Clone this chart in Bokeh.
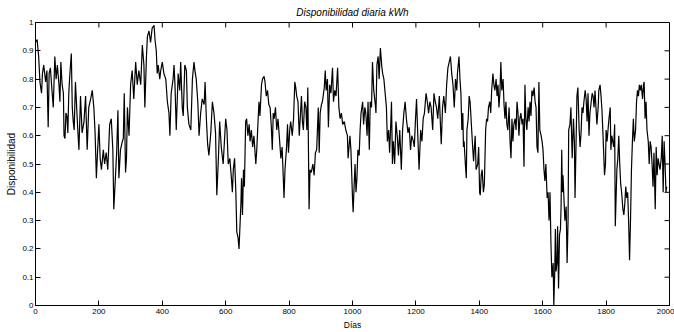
import math
from bokeh.plotting import figure
from bokeh.models import FixedTicker, Range1d
from bokeh.embed import file_html
from bokeh.resources import INLINE

# Daily availability
dias_1 = [0, 5, 10, 14, 19, 22, 26, 32, 36, 40, 43, 47, 52, 56, 61, 65, 69, 74, 77, 80, 84, 88, 90, 93, 96, 99,
          102, 105, 108, 113, 116, 119, 122, 126, 132, 137, 142, 147, 153, 158, 163, 168, 174, 179, 184, 188,
          192, 196, 200, 204, 208, 214, 218, 223, 228, 234, 239, 244, 247, 252, 256, 260, 263, 268, 274, 277,
          280, 284, 287, 290, 295, 300, 305, 310, 316, 321, 326]
disp_1 = [0.93, 0.94, 0.88, 0.79, 0.75, 0.82, 0.85, 0.79, 0.83, 0.63, 0.82, 0.84, 0.76, 0.70, 0.88, 0.80, 0.85,
          0.78, 0.72, 0.86, 0.78, 0.75, 0.60, 0.59, 0.68, 0.67, 0.61, 0.75, 0.81, 0.89, 0.70, 0.65, 0.62, 0.79,
          0.65, 0.55, 0.74, 0.61, 0.65, 0.74, 0.55, 0.70, 0.73, 0.76, 0.70, 0.61, 0.45, 0.55, 0.64, 0.52, 0.48,
          0.55, 0.50, 0.54, 0.48, 0.64, 0.66, 0.55, 0.34, 0.45, 0.54, 0.69, 0.45, 0.55, 0.58, 0.59, 0.75, 0.47,
          0.52, 0.70, 0.60, 0.78, 0.83, 0.73, 0.86, 0.78, 0.83]

dias_2 = [332, 337, 342, 345, 350, 353, 358, 363, 368, 374, 377, 381, 384, 387, 392, 395, 400, 405, 411, 416,
          421, 424, 428, 434, 437, 440, 444, 450, 455, 458, 463, 466, 471, 476, 479, 484, 490, 495, 500, 503,
          507, 512, 516, 521, 526, 532, 535, 539, 543, 547, 553, 558, 563, 568, 572, 577, 581, 586, 592, 597,
          600, 604, 608, 613, 618, 621, 624, 628, 632, 635, 639, 642, 645, 648, 650, 653, 656, 659, 663, 666]
disp_2 = [0.78, 0.92, 0.85, 0.70, 0.88, 0.95, 0.97, 0.93, 0.98, 0.99, 0.94, 0.90, 0.82, 0.85, 0.80, 0.83, 0.86,
          0.82, 0.80, 0.72, 0.68, 0.60, 0.75, 0.80, 0.85, 0.78, 0.62, 0.82, 0.76, 0.86, 0.70, 0.67, 0.85, 0.83,
          0.70, 0.64, 0.62, 0.80, 0.86, 0.83, 0.80, 0.72, 0.60, 0.68, 0.73, 0.71, 0.79, 0.66, 0.57, 0.53, 0.61,
          0.72, 0.68, 0.61, 0.39, 0.52, 0.65, 0.56, 0.50, 0.60, 0.66, 0.62, 0.50, 0.52, 0.45, 0.40, 0.48, 0.52,
          0.40, 0.26, 0.24, 0.20, 0.28, 0.36, 0.45, 0.32, 0.48, 0.42, 0.65, 0.66]

dias_3 = [670, 674, 677, 681, 685, 689, 695, 698, 702, 705, 708, 713, 716, 721, 724, 728, 732, 736, 740, 744,
          747, 750, 753, 757, 761, 765, 769, 774, 778, 782, 784, 787, 792, 795, 798, 802, 805, 810, 814, 818,
          821, 824, 828, 832, 835, 839, 842, 845, 849, 853, 856, 859, 863, 866, 870, 875, 879, 883, 887, 892,
          895, 898, 902, 905, 911, 914, 917, 921, 924, 928, 932, 937, 940, 944, 948, 953, 957, 961, 965, 969,
          974, 979, 984, 986]
disp_3 = [0.60, 0.64, 0.58, 0.62, 0.56, 0.60, 0.50, 0.55, 0.65, 0.72, 0.67, 0.78, 0.80, 0.81, 0.79, 0.74, 0.76,
          0.71, 0.70, 0.63, 0.55, 0.68, 0.66, 0.70, 0.62, 0.66, 0.60, 0.52, 0.56, 0.44, 0.38, 0.48, 0.56, 0.64,
          0.54, 0.62, 0.65, 0.60, 0.66, 0.79, 0.77, 0.74, 0.72, 0.60, 0.66, 0.74, 0.65, 0.62, 0.72, 0.70, 0.62,
          0.77, 0.34, 0.48, 0.47, 0.50, 0.46, 0.54, 0.55, 0.70, 0.54, 0.68, 0.71, 0.72, 0.77, 0.83, 0.76, 0.80,
          0.63, 0.78, 0.75, 0.84, 0.72, 0.76, 0.74, 0.84, 0.70, 0.66, 0.68, 0.64, 0.65, 0.62, 0.60, 0.52]

dias_4 = [992, 995, 998, 1000, 1002, 1005, 1008, 1011, 1014, 1017, 1021, 1024, 1027, 1032, 1035, 1039, 1042,
          1046, 1049, 1053, 1056, 1060, 1063, 1067, 1072, 1074, 1077, 1081, 1084, 1088, 1092, 1095, 1099, 1103,
          1107, 1110, 1114, 1117, 1120, 1123, 1126, 1129, 1133, 1137, 1141, 1145, 1149, 1154, 1158, 1162, 1166,
          1170, 1175, 1179, 1183, 1187, 1192, 1195, 1198, 1202, 1206, 1210, 1215, 1219, 1223, 1227, 1232, 1236,
          1240, 1244, 1248, 1253, 1257, 1261, 1265, 1269, 1274, 1278, 1280, 1284, 1288, 1293, 1297, 1301, 1305,
          1309]
disp_4 = [0.60, 0.55, 0.45, 0.38, 0.33, 0.42, 0.50, 0.40, 0.45, 0.55, 0.53, 0.62, 0.68, 0.72, 0.64, 0.70, 0.68,
          0.60, 0.72, 0.55, 0.72, 0.70, 0.86, 0.76, 0.71, 0.68, 0.85, 0.88, 0.80, 0.91, 0.85, 0.82, 0.80, 0.75,
          0.70, 0.58, 0.62, 0.54, 0.62, 0.72, 0.50, 0.58, 0.50, 0.65, 0.60, 0.53, 0.62, 0.48, 0.62, 0.68, 0.72,
          0.66, 0.61, 0.63, 0.55, 0.60, 0.58, 0.56, 0.64, 0.73, 0.60, 0.48, 0.62, 0.58, 0.66, 0.68, 0.75, 0.72,
          0.68, 0.72, 0.70, 0.62, 0.75, 0.72, 0.70, 0.66, 0.74, 0.62, 0.57, 0.70, 0.74, 0.68, 0.78, 0.84, 0.86,
          0.88]

dias_5 = [1313, 1317, 1321, 1325, 1329, 1331, 1336, 1339, 1342, 1345, 1348, 1350, 1352, 1356, 1359, 1361, 1365,
          1368, 1371, 1376, 1379, 1382, 1384, 1387, 1390, 1395, 1398, 1401, 1403, 1406, 1409, 1413, 1416, 1420,
          1423, 1426, 1429, 1433, 1436, 1439, 1443, 1446, 1449, 1453, 1456, 1459, 1462, 1465, 1468, 1471, 1475,
          1478, 1481, 1484, 1487, 1490, 1494, 1497, 1500, 1503, 1506, 1509, 1513, 1516, 1519, 1522, 1525, 1528,
          1531, 1535, 1538, 1541, 1544, 1547, 1550, 1554, 1557, 1560, 1563, 1566, 1569, 1573, 1576, 1579, 1582,
          1585, 1588, 1591, 1595, 1598, 1601, 1604, 1607, 1610, 1614, 1617, 1620, 1623, 1626, 1629, 1633, 1635,
          1638, 1640]
disp_5 = [0.82, 0.78, 0.70, 0.80, 0.76, 0.82, 0.88, 0.80, 0.75, 0.62, 0.68, 0.56, 0.58, 0.50, 0.45, 0.62, 0.66,
          0.74, 0.72, 0.62, 0.56, 0.51, 0.55, 0.60, 0.48, 0.50, 0.56, 0.40, 0.39, 0.46, 0.48, 0.40, 0.43, 0.62,
          0.66, 0.65, 0.70, 0.72, 0.68, 0.76, 0.82, 0.78, 0.76, 0.80, 0.74, 0.78, 0.70, 0.75, 0.86, 0.76, 0.80,
          0.71, 0.66, 0.72, 0.64, 0.62, 0.70, 0.58, 0.52, 0.66, 0.58, 0.64, 0.66, 0.62, 0.72, 0.68, 0.60, 0.66,
          0.68, 0.64, 0.66, 0.49, 0.78, 0.66, 0.62, 0.70, 0.65, 0.72, 0.67, 0.76, 0.74, 0.77, 0.72, 0.70, 0.56,
          0.54, 0.79, 0.62, 0.60, 0.58, 0.55, 0.48, 0.44, 0.50, 0.38, 0.40, 0.30, 0.40, 0.22, 0.10, 0.15, 0.00,
          0.12, 0.27]

dias_6 = [1642, 1645, 1647, 1650, 1653, 1656, 1658, 1660, 1662, 1664, 1667, 1670, 1674, 1677, 1680, 1682, 1686,
          1689, 1693, 1697, 1700, 1702, 1705, 1708, 1711, 1715, 1718, 1721, 1724, 1727, 1730, 1734, 1737, 1740,
          1743, 1746, 1749, 1753, 1756, 1759, 1762, 1765, 1768, 1771, 1775, 1777, 1781, 1784, 1787, 1791, 1795,
          1798, 1800, 1803, 1806, 1809, 1813, 1815, 1818, 1821, 1824, 1827, 1829, 1834, 1837, 1840, 1843, 1846,
          1849, 1853, 1856, 1859, 1862, 1865, 1868, 1871, 1874, 1877, 1880, 1883, 1886, 1889, 1893, 1896, 1899,
          1902, 1905, 1908, 1911, 1915, 1918, 1920, 1923, 1926, 1929, 1933, 1936, 1939, 1942, 1945, 1948, 1951,
          1955, 1958, 1961, 1964, 1967, 1970, 1974, 1977, 1980, 1983, 1986, 1989, 1991]
disp_6 = [0.12, 0.15, 0.28, 0.06, 0.25, 0.27, 0.35, 0.55, 0.40, 0.46, 0.38, 0.30, 0.35, 0.15, 0.30, 0.62, 0.64,
          0.70, 0.52, 0.66, 0.58, 0.38, 0.56, 0.74, 0.77, 0.62, 0.56, 0.61, 0.70, 0.68, 0.72, 0.76, 0.73, 0.65,
          0.75, 0.60, 0.68, 0.72, 0.75, 0.74, 0.70, 0.76, 0.70, 0.64, 0.70, 0.76, 0.78, 0.74, 0.69, 0.58, 0.46,
          0.50, 0.62, 0.58, 0.62, 0.66, 0.70, 0.55, 0.60, 0.58, 0.56, 0.64, 0.28, 0.48, 0.52, 0.60, 0.50, 0.43,
          0.40, 0.34, 0.32, 0.36, 0.42, 0.38, 0.40, 0.30, 0.16, 0.30, 0.48, 0.58, 0.66, 0.58, 0.62, 0.72, 0.76,
          0.74, 0.78, 0.76, 0.78, 0.73, 0.78, 0.79, 0.66, 0.72, 0.62, 0.58, 0.50, 0.58, 0.56, 0.50, 0.42, 0.54,
          0.34, 0.56, 0.46, 0.52, 0.50, 0.48, 0.52, 0.60, 0.40, 0.58, 0.50, 0.40, 0.42]

x_ticks = [0, 200, 400, 600, 800, 1000, 1200, 1400, 1600, 1800, 2000]
y_ticks = [0, 0.1, 0.2, 0.3, 0.4, 0.5, 0.6, 0.7, 0.8, 0.9, 1]
y_tick_labels = ["0", "0.1", "0.2", "0.3", "0.4", "0.5", "0.6", "0.7", "0.8", "0.9", "1"]

titulo = "Disponibilidad diaria kWh"
x_label = "Días"
y_label = "Disponibilidad"

dias = dias_1 + dias_2 + dias_3 + dias_4 + dias_5 + dias_6
disponibilidad = disp_1 + disp_2 + disp_3 + disp_4 + disp_5 + disp_6

FONT = "Liberation Sans"
X_MIN, X_MAX = 0, 2000
Y_MIN, Y_MAX = 0, 1
TICK = 5

p = figure(width=674, height=332, output_backend="svg", toolbar_location=None,
           x_range=Range1d(X_MIN, X_MAX), y_range=Range1d(Y_MIN, Y_MAX),
           min_border_left=35, min_border_right=5, min_border_top=20, min_border_bottom=27)
p.background_fill_color = "white"
p.border_fill_color = "white"
p.outline_line_color = "black"
p.outline_line_width = 1
p.xgrid.visible = False
p.ygrid.visible = False

p.title.text = titulo
p.title.align = "center"
p.title.text_font = FONT
p.title.text_font_size = "10px"
p.title.text_font_style = "italic"
p.title.text_color = "black"
p.title.standoff = 9
p.title.offset = 0

p.line(dias, disponibilidad, line_color="black", line_width=1.2)

# inward ticks on the top and right sides of the box (MATLAB style)
p.ray(x=x_ticks, y=[Y_MAX] * len(x_ticks), length=TICK, length_units="screen",
      angle=-math.pi / 2, line_color="black", line_width=1)
p.ray(x=[X_MAX] * len(y_ticks), y=y_ticks, length=TICK, length_units="screen",
      angle=math.pi, line_color="black", line_width=1)

xa = p.xaxis[0]
ya = p.yaxis[0]
for ax, ticks in ((xa, x_ticks), (ya, y_ticks)):
    ax.ticker = FixedTicker(ticks=ticks)
    ax.major_tick_in = TICK
    ax.major_tick_out = 0
    ax.minor_tick_in = 0
    ax.minor_tick_out = 0
    ax.major_label_text_font = FONT
    ax.major_label_text_font_size = "8px"
    ax.major_label_text_color = "black"
    ax.axis_label_text_font = FONT
    ax.axis_label_text_font_style = "normal"
    ax.axis_label_text_color = "black"
    ax.axis_line_color = "black"
    ax.major_tick_line_color = "black"

xa.axis_label_text_font_size = "8.5px"
ya.axis_label_text_font_size = "10px"
xa.major_label_standoff = 3
xa.axis_label_standoff = 3
ya.major_label_standoff = 2
ya.axis_label_standoff = 2

xa.axis_label = x_label
ya.axis_label = y_label
ya.major_label_overrides = {t: l for t, l in zip(y_ticks, y_tick_labels)}

open("out.html", "w").write(file_html(p, INLINE))
